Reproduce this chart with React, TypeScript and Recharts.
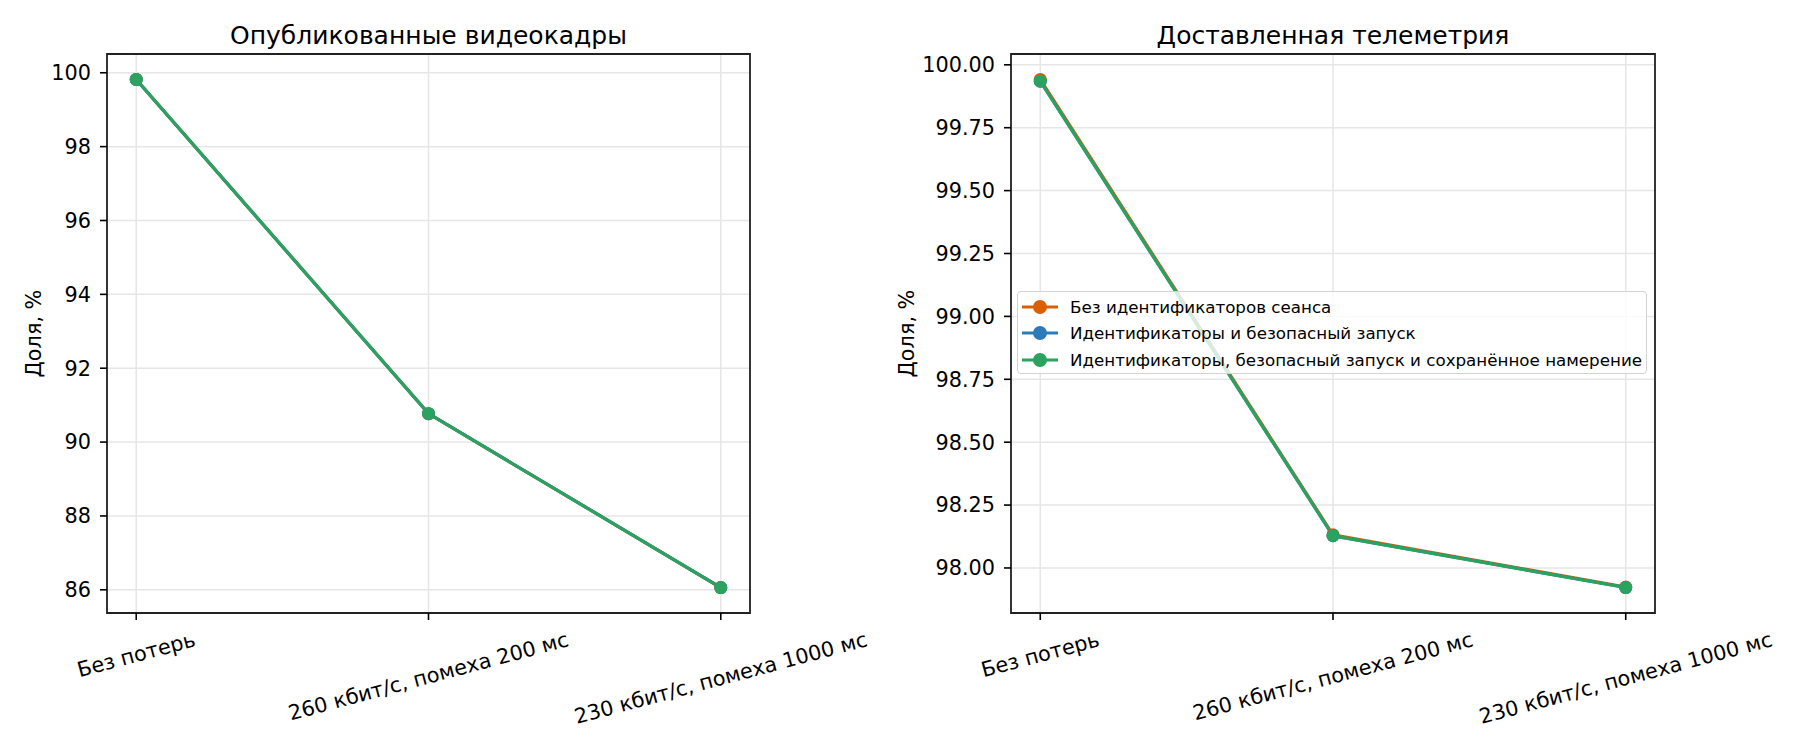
import React from 'react';
import { LineChart, Line, XAxis, YAxis, CartesianGrid, ReferenceArea } from 'recharts';

const categories = ['Без потерь', '260 кбит/с, помеха 200 мс', '230 кбит/с, помеха 1000 мс'];
const categoryIndex = [0, 1, 2];
const seriesNames = [
  'Без идентификаторов сеанса',
  'Идентификаторы и безопасный запуск',
  'Идентификаторы, безопасный запуск и сохранённое намерение',
];
const seriesColors = ['#d95f02', '#2b7bba', '#2ca25f'];
const seriesKeys = ['noIds', 'ids', 'intent'];

const videoNoIds = [99.82, 90.77, 86.06];
const videoIds = [99.82, 90.77, 86.06];
const videoIntent = [99.82, 90.77, 86.06];

const telemetryNoIds = [99.942, 98.132, 97.924];
const telemetryIds = [99.935, 98.128, 97.922];
const telemetryIntent = [99.935, 98.128, 97.922];

const videoTicks = [86, 88, 90, 92, 94, 96, 98, 100];
const telemetryTicks = [98, 98.25, 98.5, 98.75, 99, 99.25, 99.5, 99.75, 100];

const titles = ['Опубликованные видеокадры', 'Доставленная телеметрия'];
const yLabel = 'Доля, %';

const FONT = '"DejaVu Sans", Verdana, sans-serif';
const TICK_FS = 20.8;

const buildRows = (a: number[], b: number[], c: number[]) =>
  categoryIndex.map((i) => ({ i, noIds: a[i], ids: b[i], intent: c[i] }));

const videoData = buildRows(videoNoIds, videoIds, videoIntent);
const telemetryData = buildRows(telemetryNoIds, telemetryIds, telemetryIntent);

const paddedDomain = (arrs: number[][]): [number, number] => {
  const all = arrs.flat();
  const lo = Math.min(...all);
  const hi = Math.max(...all);
  const m = (hi - lo) * 0.05;
  return [lo - m, hi + m];
};

let ctx: CanvasRenderingContext2D | null = null;
const measure = (s: string, fs: number) => {
  if (!ctx) {
    const c = document.createElement('canvas');
    ctx = c.getContext('2d');
  }
  if (!ctx) return s.length * fs * 0.6;
  ctx.font = `${fs}px "DejaVu Sans"`;
  return ctx.measureText(s).width;
};

const XTick = (props: any) => {
  const { x, y, payload } = props;
  const label = categories[payload.value] ?? '';
  const w = measure(label, TICK_FS);
  const H = TICK_FS * 1.17;
  const a = (15 * Math.PI) / 180;
  const cy = y + 7.3 + (w * Math.sin(a) + H * Math.cos(a)) / 2;
  return (
    <text
      x={x}
      y={cy}
      transform={`rotate(-15 ${x} ${cy})`}
      textAnchor="middle"
      dominantBaseline="central"
      fontSize={TICK_FS}
      fontFamily={FONT}
      fill="#000"
    >
      {label}
    </text>
  );
};

const YLabel = (offsetFromPlot: number) => (props: any) => {
  const vb = props.viewBox || {};
  const cx = vb.x + vb.width - offsetFromPlot;
  const cy = vb.y + vb.height / 2;
  return (
    <text
      x={cx}
      y={cy}
      transform={`rotate(-90 ${cx} ${cy})`}
      textAnchor="middle"
      dominantBaseline="central"
      fontSize={TICK_FS}
      fontFamily={FONT}
      fill="#000"
    >
      {yLabel}
    </text>
  );
};

type PanelProps = {
  data: any[];
  domain: [number, number];
  ticks: number[];
  fmt: (v: number) => string;
  width: number;
  yAxisWidth: number;
  margin: { top: number; right: number; bottom: number; left: number };
  labelOffset: number;
};

const Panel = ({ data, domain, ticks, fmt, width, yAxisWidth, margin, labelOffset }: PanelProps) => (
  <LineChart width={width} height={750} data={data} margin={margin}>
    <CartesianGrid stroke="#e6e6e6" strokeWidth={1.5} />
    <XAxis
      type="number"
      dataKey="i"
      domain={[-0.1, 2.1]}
      ticks={categoryIndex}
      interval={0}
      allowDataOverflow
      height={100}
      axisLine={false}
      tickLine={{ stroke: '#000', strokeWidth: 1.6 }}
      tickSize={7}
      tickMargin={0}
      tick={<XTick />}
    />
    <YAxis
      type="number"
      domain={domain}
      ticks={ticks}
      interval={0}
      allowDataOverflow
      width={yAxisWidth}
      axisLine={false}
      tickLine={{ stroke: '#000', strokeWidth: 1.6 }}
      tickSize={7}
      tickMargin={9}
      tickFormatter={fmt}
      tick={{ fill: '#000', fontSize: TICK_FS, fontFamily: FONT }}
      label={YLabel(labelOffset)}
    />
    {seriesKeys.map((k, idx) => (
      <Line
        key={k}
        type="linear"
        dataKey={k}
        name={seriesNames[idx]}
        stroke={seriesColors[idx]}
        strokeWidth={3.1}
        dot={{ r: 6.5, fill: seriesColors[idx], stroke: seriesColors[idx], strokeWidth: 0 }}
        activeDot={false}
        isAnimationActive={false}
      />
    ))}
    <ReferenceArea
      x1={-0.1}
      x2={2.1}
      y1={domain[0]}
      y2={domain[1]}
      fill="#fff"
      fillOpacity={0}
      stroke="#222"
      strokeWidth={1.8}
      ifOverflow="visible"
    />
  </LineChart>
);

const TitleDiv = ({ text, left, width }: { text: string; left: number; width: number }) => (
  <div
    style={{
      position: 'absolute',
      left,
      width,
      top: 23,
      textAlign: 'center',
      fontFamily: FONT,
      fontSize: 25,
      lineHeight: '25px',
      color: '#000',
      whiteSpace: 'nowrap',
    }}
  >
    {text}
  </div>
);

const LegendBox = () => (
  <div
    style={{
      position: 'absolute',
      left: 1017,
      top: 291,
      width: 630,
      height: 83,
      boxSizing: 'border-box',
      border: '1px solid #d3d3d3',
      borderRadius: 4,
      background: 'rgba(255,255,255,0.8)',
      paddingTop: 2,
      fontFamily: FONT,
      fontSize: 16.7,
      color: '#000',
    }}
  >
    {seriesNames.map((n, idx) => (
      <div key={n} style={{ display: 'flex', alignItems: 'center', height: 26.3 }}>
        <svg width={52} height={26} style={{ flex: '0 0 auto' }}>
          <line x1={4} x2={40} y1={13} y2={13} stroke={seriesColors[idx]} strokeWidth={3} />
          <circle cx={22} cy={13} r={7} fill={seriesColors[idx]} />
        </svg>
        <span style={{ whiteSpace: 'nowrap' }}>{n}</span>
      </div>
    ))}
  </div>
);

export default function App() {
  const vDomain = paddedDomain([videoNoIds, videoIds, videoIntent]);
  const tDomain = paddedDomain([telemetryNoIds, telemetryIds, telemetryIntent]);
  return (
    <div style={{ position: 'absolute', left: 0, top: 0, width: 1800, height: 750, background: '#fff', overflow: 'hidden' }}>
      <div style={{ position: 'absolute', left: 0, top: 0 }}>
        <Panel
          data={videoData}
          domain={vDomain}
          ticks={videoTicks}
          fmt={(v) => String(v)}
          width={880}
          yAxisWidth={60}
          margin={{ top: 54, right: 130, bottom: 37, left: 47 }}
          labelOffset={73}
        />
      </div>
      <div style={{ position: 'absolute', left: 880, top: 0 }}>
        <Panel
          data={telemetryData}
          domain={tDomain}
          ticks={telemetryTicks}
          fmt={(v) => v.toFixed(2)}
          width={920}
          yAxisWidth={80}
          margin={{ top: 54, right: 145, bottom: 37, left: 51 }}
          labelOffset={104}
        />
      </div>
      <TitleDiv text={titles[0]} left={107} width={643} />
      <TitleDiv text={titles[1]} left={1011} width={644} />
      <LegendBox />
    </div>
  );
}
